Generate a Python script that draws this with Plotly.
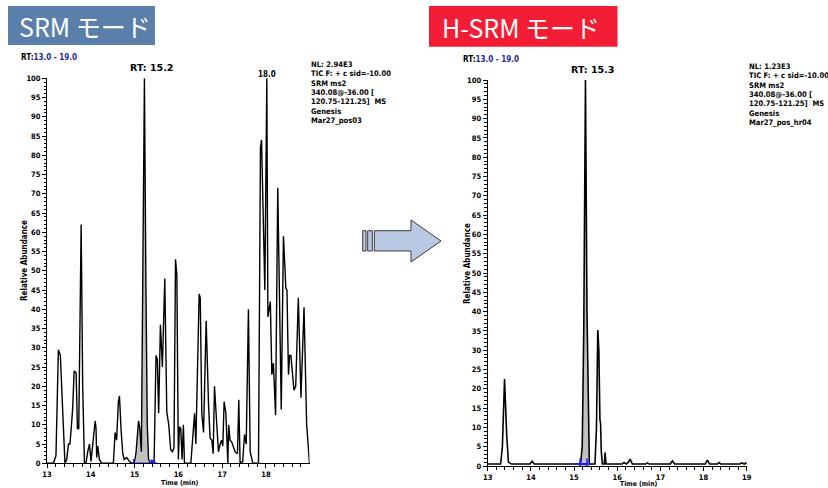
import numpy as np
import plotly.graph_objects as go

# ---------------- data ----------------
# Left: SRM mode chromatogram (time in min, relative abundance %)
srm_time = [13.00, 13.145, 13.205, 13.26, 13.305, 13.36, 13.41, 13.45, 13.49, 13.525,
            13.565, 13.585, 13.62, 13.665, 13.695, 13.725, 13.78, 13.815, 13.855, 13.89,
            13.93, 13.97, 14.005, 14.06, 14.10, 14.12, 14.135, 14.16, 14.195, 14.25,
            14.515, 14.555, 14.59, 14.63, 14.655, 14.69, 14.73, 14.765, 14.82, 14.88,
            14.935, 14.995, 15.035, 15.09, 15.12, 15.155, 15.19, 15.225, 15.26, 15.29,
            15.32, 15.37, 15.445, 15.49, 15.52, 15.55, 15.59, 15.635, 15.69, 15.735,
            15.78, 15.825, 15.865, 15.90, 15.935, 15.965, 16.00, 16.025, 16.055, 16.085,
            16.115, 16.14, 16.285, 16.37, 16.40, 16.475, 16.50, 16.535, 16.575, 16.635,
            16.69, 16.725, 16.765, 16.795, 16.825, 16.865, 16.915, 16.955, 16.985, 17.015,
            17.045, 17.085, 17.13, 17.15, 17.18, 17.22, 17.26, 17.295, 17.35, 17.38,
            17.41, 17.47, 17.51, 17.55, 17.60, 17.64, 17.70, 17.81, 17.83, 17.875,
            17.90, 17.975, 18.02, 18.045, 18.10, 18.135, 18.17, 18.22, 18.27, 18.35,
            18.40, 18.455, 18.48, 18.515, 18.54, 18.57, 18.60, 18.64, 18.68, 18.74,
            18.80, 18.87, 18.93, 18.995]
srm_abund = [0, 0, 2, 29.5, 28, 12, 0, 1, 5, 5,
             10, 14, 24, 23.5, 9, 9, 62, 20, 0, 0,
             3, 5, 0.5, 6, 11, 9, 1.5, 4.5, 1, 0,
             0, 8, 6, 16, 17.5, 9, 2.5, 1, 1.5, 0.5,
             0, 0, 3, 11, 9, 3, 45, 100, 45, 10,
             1, 0, 0, 28, 27, 13, 36, 25, 48, 13.5,
             10, 3.5, 3, 4, 53, 49, 1, 9.5, 9, 1,
             10, 0, 0, 13, 5, 44, 43, 13, 8, 37,
             15, 6.5, 6, 2.5, 20, 13, 3, 5, 6, 4.5,
             16, 13, 0, 10, 6, 5.5, 4, 3, 2.5, 16.5,
             0, 0.5, 7.5, 5, 40, 3, 0, 0, 0, 82,
             84, 45, 100, 38, 42, 23, 26, 12.5, 71.6, 14,
             59, 45.5, 45, 23, 28, 28, 23, 19, 20, 43,
             17, 40.5, 10, 0]

# Right: H-SRM mode chromatogram
hsrm_time = [13.00, 13.30, 13.34, 13.39, 13.44, 13.48, 13.55, 13.98, 14.03, 14.08,
             15.15, 15.19, 15.225, 15.265, 15.30, 15.33, 15.355, 15.485, 15.52, 15.55,
             15.575, 15.60, 15.615, 15.63, 15.655, 15.70, 15.72, 15.74, 16.11, 16.16,
             16.21, 16.26, 16.30, 16.35, 16.66, 16.70, 16.74, 17.23, 17.28, 17.33,
             18.04, 18.09, 18.14, 18.32, 18.36, 18.40, 18.84, 18.88, 18.92, 18.95,
             18.98, 19.00]
hsrm_abund = [0.5, 0.5, 5, 22.5, 8, 1, 0.5, 0.5, 1.2, 0.5,
              0.5, 5, 35, 100, 40, 10, 0.5, 0.5, 10, 35.2,
              30, 12, 11, 4, 0.5, 0.5, 3.5, 0.5, 0.5, 0.9,
              0.5, 1.0, 1.8, 0.5, 0.5, 0.8, 0.5, 0.5, 1.3, 0.5,
              0.5, 1.5, 0.5, 0.5, 0.9, 0.5, 0.5, 0.8, 0.5, 0.5,
              0.8, 0.5]

# integrated peak windows and RT markers
srm_fill_window = (15.03, 15.33)
hsrm_fill_window = (15.15, 15.36)
srm_marker_t = [14.98, 15.42]
hsrm_marker_t = [15.14, 15.30]

y_ticks = list(range(0, 101, 5))
srm_x_ticks = [13, 14, 15, 16, 17, 18]
hsrm_x_ticks = [13, 14, 15, 16, 17, 18, 19]

srm_info = ["NL: 2.94E3", "TIC F: + c sid=-10.00", "SRM ms2", "340.08@-36.00 [",
            "120.75-121.25]  MS", "Genesis", "Mar27_pos03"]
hsrm_info = ["NL: 1.23E3", "TIC F: + c sid=-10.00", "SRM ms2", "340.08@-36.00 [",
             "120.75-121.25]  MS", "Genesis", "Mar27_pos_hr04"]

# ---------------- figure ----------------
W, H = 828, 488
def px(x):
    return x / W
def py(y):
    return 1 - y / H

FAM = "DejaVu Sans Condensed, DejaVu Sans"
INFO = dict(family=FAM, size=7.6, color="black", weight="bold")
LABEL = dict(family=FAM, size=8, color="black", weight="bold")

fig = go.Figure()

def add_chrom(t, a, window, xa, ya, lw):
    t = np.array(t); a = np.array(a)
    m = (t >= window[0]) & (t <= window[1])
    fig.add_trace(go.Scatter(x=t[m], y=a[m], mode="lines", fill="tozeroy",
                             fillcolor="#c0c0c0", line=dict(width=0, color="#c0c0c0"),
                             xaxis=xa, yaxis=ya, hoverinfo="skip"))
    fig.add_trace(go.Scatter(x=t, y=a, mode="lines", line=dict(color="black", width=lw),
                             xaxis=xa, yaxis=ya))

add_chrom(srm_time, srm_abund, srm_fill_window, "x", "y", 1.4)
add_chrom(hsrm_time, hsrm_abund, hsrm_fill_window, "x2", "y2", 1.6)

fig.add_trace(go.Scatter(x=srm_marker_t, y=[0, 0], mode="lines+markers",
                         line=dict(color="#1a1aff", width=1.5),
                         marker=dict(symbol=["line-ns", "triangle-right"], size=6,
                                     color="#1a1aff", line=dict(color="#1a1aff", width=1.5)),
                         xaxis="x", yaxis="y"))
fig.add_trace(go.Scatter(x=hsrm_marker_t, y=[0.5, 0.5], mode="lines+markers",
                         line=dict(color="#1a1aff", width=1.5),
                         marker=dict(symbol="cross-thin", size=8,
                                     color="#1a1aff", line=dict(color="#1a1aff", width=1.5)),
                         xaxis="x2", yaxis="y2"))

tickfont = dict(family=FAM, size=7.5, color="black", weight="bold")

def xaxis_cfg(dom, rng, ticks, anchor):
    return dict(domain=dom, range=rng, tickmode="array", tickvals=ticks, ticks="outside",
                ticklen=4, tickwidth=1, tickcolor="black", showline=True, linecolor="black",
                linewidth=1, showgrid=False, zeroline=False, tickfont=tickfont, anchor=anchor,
                minor=dict(tickmode="linear", tick0=13, dtick=0.2, ticks="outside", ticklen=3,
                           tickcolor="black", showgrid=False),
                automargin=False, fixedrange=True)

def yaxis_cfg(dom, anchor):
    return dict(domain=dom, range=[0, 100], tickmode="array", tickvals=y_ticks, ticks="outside",
                ticklen=4, tickwidth=1, tickcolor="black", showline=True, linecolor="black",
                linewidth=1, showgrid=False, zeroline=False, tickfont=tickfont, anchor=anchor,
                minor=dict(tickmode="linear", tick0=0, dtick=1, ticks="outside", ticklen=2.5,
                           tickcolor="black", showgrid=False),
                automargin=False, fixedrange=True)

fig.update_layout(
    width=W, height=H, margin=dict(l=0, r=0, t=0, b=0, pad=0),
    paper_bgcolor="white", plot_bgcolor="white", showlegend=False,
    xaxis=xaxis_cfg([px(47), px(309.5)], [13, 18.995], srm_x_ticks, "y"),
    yaxis=yaxis_cfg([py(463.3), py(78.3)], "x"),
    xaxis2=xaxis_cfg([px(487.7), px(746.7)], [13, 19], hsrm_x_ticks, "y2"),
    yaxis2=yaxis_cfg([py(466), py(80)], "x2"),
)

shapes = []
# title boxes
shapes.append(dict(type="rect", xref="paper", yref="paper", x0=px(8), x1=px(155),
                   y0=py(45), y1=py(6), fillcolor="#5b7fab", line=dict(width=0), layer="below"))
shapes.append(dict(type="rect", xref="paper", yref="paper", x0=px(429), x1=px(617.5),
                   y0=py(46.7), y1=py(6), fillcolor="#f31e35", line=dict(width=0), layer="below"))
# arrow
def path(pts):
    return "M " + " L ".join(f"{px(a):.5f},{py(b):.5f}" for a, b in pts) + " Z"
arrow_line = dict(color="#3a3a3a", width=1)
shapes.append(dict(type="path", xref="paper", yref="paper",
                   path=path([(374.3, 230.7), (411, 230.7), (411, 220), (441, 241),
                              (411, 262), (411, 251), (374.3, 251)]),
                   fillcolor="#b9c8e3", line=arrow_line))
for a, b in [(362.7, 366), (367.7, 372.3)]:
    shapes.append(dict(type="rect", xref="paper", yref="paper", x0=px(a), x1=px(b),
                       y0=py(251), y1=py(230.7), fillcolor="#b9c8e3", line=arrow_line))
fig.update_layout(shapes=shapes)

ann = []
def A(text, x, y, font, xanchor="left", yanchor="middle", **kw):
    ann.append(dict(text=text, x=px(x), y=py(y), xref="paper", yref="paper", showarrow=False,
                    xanchor=xanchor, yanchor=yanchor, font=font, **kw))

title_font = dict(family="Noto Sans CJK JP", size=25, color="white")
A("SRM モード", 17, 26, title_font)
A("H-SRM モード", 440, 27, title_font)

blue = "#1c2b9c"
A(f"RT:<span style='color:{blue}'>13.0 - 19.0</span>", 19, 57.5, LABEL)
A(f"RT:<span style='color:{blue}'>13.0 - 19.0</span>", 461, 59.5, LABEL)

rt_font = dict(family="DejaVu Sans", size=9.5, color="black", weight="bold")
A("RT: 15.2", 151, 67.5, rt_font, xanchor="center")
A("RT: 15.3", 592, 69.5, rt_font, xanchor="center")
A("18.0", 266.5, 75, LABEL, xanchor="center")

for i, line in enumerate(srm_info):
    A(line, 309, 64.5 + i * 9.3, INFO)
for i, line in enumerate(hsrm_info):
    A(line, 746.5, 66.5 + i * 9.3, INFO)

A("Relative Abundance", 24, 261, LABEL, xanchor="center", textangle=-90)
A("Relative Abundance", 467, 263, LABEL, xanchor="center", textangle=-90)
TFONT = dict(family=FAM, size=6.8, color="black", weight="bold")
A("Time (min)", 180, 489, TFONT, xanchor="center", yanchor="bottom")
A("Time (min)", 639, 489.5, TFONT, xanchor="center", yanchor="bottom")

fig.update_layout(annotations=ann)

fig.write_html("out.html")
